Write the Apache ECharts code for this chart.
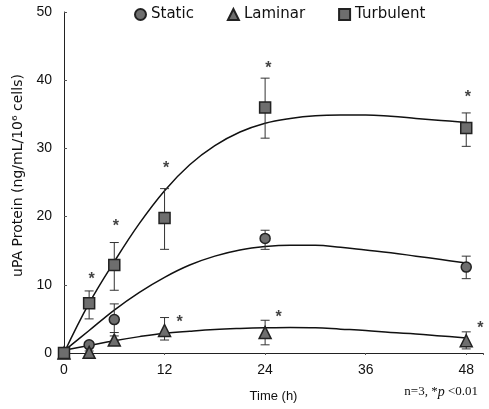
<!DOCTYPE html>
<html>
<head>
<meta charset="utf-8">
<script src="https://cdn.jsdelivr.net/npm/echarts@6/dist/echarts.min.js"></script>
<style>
  html, body { margin: 0; padding: 0; background: #fff; }
  #chart { width: 489px; height: 409px; }
</style>
</head>
<body>
<div id="chart"></div>
<script>
// measured points [time, value]
const staticPts = [[0, 0], [3, 1.2], [6, 4.9], [24, 16.8], [48, 12.6]]
const laminarPts = [[0, 0], [3, 0.1], [6, 1.9], [12, 3.3], [24, 3.0], [48, 1.8]]
const turbulentPts = [[0, 0], [3, 7.3], [6, 12.9], [12, 19.8], [24, 36.0], [48, 33.0]]

// error bars [time, low, high]
const staticErr = [[3, 0.3, 1.6], [6, 3.0, 7.2], [24, 15.2, 18.0], [48, 10.9, 14.2]]
const laminarErr = [[6, 1.3, 2.5], [12, 1.9, 5.2], [24, 1.2, 4.8], [48, 0.6, 3.1]]
const turbulentErr = [[3, 5.0, 9.1], [6, 9.2, 16.2], [12, 15.2, 24.1], [24, 31.5, 40.3], [48, 30.3, 35.2]]

// fitted curves, every 3 h
const fitTimes = [0, 3, 6, 9, 12, 15, 18, 21, 24, 27, 30, 33, 36, 39, 42, 45, 48]
const staticFit = [0.3, 3.3, 6.3, 8.9, 11.1, 12.9, 14.2, 15.1, 15.6, 15.8, 15.8, 15.5, 15.1, 14.7, 14.2, 13.7, 13.2]
const laminarFit = [0.4, 1.1, 1.8, 2.4, 2.9, 3.2, 3.45, 3.6, 3.7, 3.75, 3.7, 3.5, 3.3, 3.0, 2.8, 2.5, 2.2]
const turbulentFit = [0, 7.3, 13.4, 19.0, 23.8, 27.6, 30.4, 32.4, 33.7, 34.4, 34.8, 34.9, 34.9, 34.7, 34.4, 34.1, 33.8]

// significance stars
const stars = [[3.3, 10.8], [6.2, 18.5], [12.2, 27.0], [24.4, 41.7], [48.2, 37.4], [13.8, 4.5], [25.6, 5.2], [49.7, 3.6]]

const xTicks = [0, 12, 24, 36, 48]

const markFill = '#6e6e6e'
const markEdge = '#222'

function errSeries(data) {
  return {
    type: 'custom',
    silent: true,
    z: 3,
    data: data,
    renderItem(params, api) {
      const x = api.value(0)
      const lo = api.coord([x, api.value(1)])
      const hi = api.coord([x, api.value(2)])
      const w = 4.5
      const style = { stroke: '#333', lineWidth: 1 }
      return {
        type: 'group',
        children: [
          { type: 'line', shape: { x1: lo[0], y1: lo[1], x2: hi[0], y2: hi[1] }, style },
          { type: 'line', shape: { x1: lo[0] - w, y1: lo[1], x2: lo[0] + w, y2: lo[1] }, style },
          { type: 'line', shape: { x1: hi[0] - w, y1: hi[1], x2: hi[0] + w, y2: hi[1] }, style }
        ]
      }
    }
  }
}

function fitSeries(values) {
  return {
    type: 'line',
    data: fitTimes.map((t, i) => [t, values[i]]),
    smooth: 0.4,
    symbol: 'none',
    silent: true,
    z: 2,
    lineStyle: { color: '#111', width: 1.5 }
  }
}

function pointSeries(name, data, symbol, size) {
  return {
    name: name,
    type: 'scatter',
    data: data,
    symbol: symbol,
    symbolSize: size,
    z: 5,
    itemStyle: { color: markFill, borderColor: markEdge, borderWidth: 1.5, opacity: 1 }
  }
}

const chart = echarts.init(document.getElementById('chart'))
chart.setOption({
  animation: false,
  textStyle: { fontFamily: 'Liberation Sans, Arial, sans-serif' },
  legend: {
    top: 2,
    left: 129,
    itemWidth: 11,
    itemHeight: 11,
    itemGap: 33,
    textStyle: { fontSize: 15, color: '#111', fontFamily: 'DejaVu Sans, sans-serif' },
    data: ['Static', 'Laminar', 'Turbulent']
  },
  title: {
    right: 6,
    bottom: 5,
    text: '{a|n=3, *}{b|p}{a| <0.01}',
    textStyle: {
      fontWeight: 'normal',
      rich: {
        a: { fontFamily: 'Liberation Serif, serif', fontSize: 13, fontWeight: 'normal', color: '#111' },
        b: { fontFamily: 'Liberation Serif, serif', fontSize: 14, fontStyle: 'italic', fontWeight: 'normal', color: '#111' }
      }
    }
  },
  grid: { left: 64, right: 6, top: 12, bottom: 56 },
  xAxis: {
    type: 'value',
    min: 0,
    max: 50,
    interval: 12,
    name: 'Time (h)',
    nameLocation: 'middle',
    nameGap: 37,
    nameTextStyle: { fontSize: 13, color: '#111' },
    splitLine: { show: false },
    axisLine: { lineStyle: { color: '#222', width: 1 } },
    axisTick: { length: 2, lineStyle: { color: '#555' } },
    axisLabel: {
      fontSize: 14, color: '#111', margin: 10,
      formatter: v => (xTicks.indexOf(v) >= 0 ? String(v) : '')
    }
  },
  yAxis: {
    type: 'value',
    min: 0,
    max: 50,
    interval: 10,
    name: 'uPA Protein (ng/mL/10\u2076 cells)',
    nameLocation: 'middle',
    nameGap: 30,
    nameTextStyle: { fontSize: 14, color: '#111', fontFamily: 'DejaVu Sans, sans-serif', padding: [0, 0, 0, 14] },
    splitLine: { show: false },
    axisLine: { show: true, lineStyle: { color: '#222', width: 1 } },
    axisTick: { show: true, inside: true, length: 3, lineStyle: { color: '#555' } },
    axisLabel: { fontSize: 14, color: '#111', margin: 12 }
  },
  series: [
    fitSeries(staticFit),
    fitSeries(laminarFit),
    fitSeries(turbulentFit),
    errSeries(staticErr),
    errSeries(laminarErr),
    errSeries(turbulentErr),
    pointSeries('Static', staticPts, 'circle', 10),
    pointSeries('Laminar', laminarPts, 'triangle', 12),
    pointSeries('Turbulent', turbulentPts, 'rect', 11),
    {
      type: 'scatter',
      data: stars,
      symbolSize: 1,
      silent: true,
      itemStyle: { color: 'transparent' },
      label: {
        show: true,
        position: 'inside',
        formatter: '*',
        fontSize: 16,
        fontWeight: 'bold',
        color: '#111'
      }
    }
  ]
})
</script>
</body>
</html>
